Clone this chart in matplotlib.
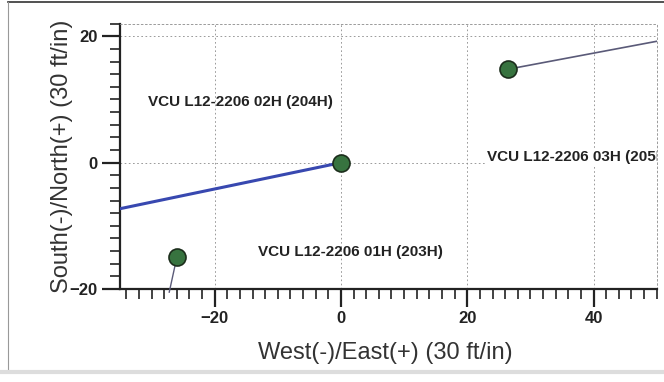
import matplotlib
matplotlib.use('Agg')
import matplotlib.pyplot as plt
from matplotlib.lines import Line2D
from matplotlib.ticker import MultipleLocator

plt.rcParams['font.family'] = ['Liberation Sans', 'DejaVu Sans']

# Well surface locations (30 ft/in grid units)
well_labels = ['VCU L12-2206 01H (203H)', 'VCU L12-2206 02H (204H)', 'VCU L12-2206 03H (205H)']
surface_x = [-26.0, 0.0, 26.5]
surface_y = [-15.0, 0.0, 14.8]

# Wellbore traces
path_01_x = [-26.0, -27.2]
path_01_y = [-15.0, -20.5]
path_02_x = [0.0, -36.0]
path_02_y = [0.0, -7.5]
path_03_x = [26.5, 51.0]
path_03_y = [14.8, 19.4]

fig = plt.figure(figsize=(6.64, 3.82), dpi=100)
ax = fig.add_axes([0.1807, 0.2435, 0.8083, 0.6945])

ax.set_xlim(-35, 50)
ax.set_ylim(-20, 22)

# Grid
for gx in [-20, 0, 20, 40]:
    ax.axvline(gx, color='#8a8a8a', linewidth=0.6, linestyle=(0, (2, 3)), zorder=1)
for gy in [0, 20]:
    ax.axhline(gy, color='#8a8a8a', linewidth=0.6, linestyle=(0, (2, 3)), zorder=1)

# Traces
ax.plot(path_02_x, path_02_y, color='#3848b0', linewidth=2.2, zorder=3)
ax.plot(path_03_x, path_03_y, color='#5a5a78', linewidth=1.2, zorder=3)
ax.plot(path_01_x, path_01_y, color='#5a5a78', linewidth=1.0, zorder=3, clip_on=False)

ax.scatter(surface_x, surface_y, s=150, color='#37733f', edgecolors='#1c2e1c',
           linewidths=1.2, zorder=5)

# Labels
lab_kw = dict(fontsize=11, fontweight='bold', va='center', ha='left', color='#222222')
ax.text(-30.6, 9.6, well_labels[1], **lab_kw)
ax.text(-13.2, -14.2, well_labels[0], **lab_kw)
ax.text(23.2, 0.9, well_labels[2], clip_on=True,
        bbox=dict(facecolor='white', edgecolor='none', pad=1), **lab_kw)

# Spines
for s in ['top', 'right']:
    ax.spines[s].set_color('#8a8a8a')
    ax.spines[s].set_linestyle((0, (2, 3)))
    ax.spines[s].set_linewidth(0.6)
for s in ['left', 'bottom']:
    ax.spines[s].set_linewidth(1.6)
    ax.spines[s].set_color('#222222')

ax.xaxis.set_major_locator(MultipleLocator(20))
ax.xaxis.set_minor_locator(MultipleLocator(2))
ax.yaxis.set_major_locator(MultipleLocator(20))
ax.yaxis.set_minor_locator(MultipleLocator(2))
ax.tick_params(which='major', direction='out', length=13, width=1.6, color='#222222',
               labelsize=12, pad=3)
ax.tick_params(which='minor', direction='out', length=7, width=1.2, color='#222222')
ax.tick_params(top=False, right=False, which='both')
for lab in ax.get_xticklabels() + ax.get_yticklabels():
    lab.set_fontweight('bold')
    lab.set_color('#222222')

ax.set_xlabel('West(-)/East(+) (30 ft/in)', fontsize=17, color='#333333')
ax.set_ylabel('South(-)/North(+) (30 ft/in)', fontsize=17, color='#333333')
ax.xaxis.set_label_coords(0.4935, -0.2)
ax.yaxis.set_label_coords(-0.088, 0.5)

# Scanned page border
fig.add_artist(Line2D([0.012, 1.0], [0.995, 0.995], color='#333333', linewidth=1.2))
fig.add_artist(Line2D([0.012, 0.012], [0.03, 0.995], color='#999999', linewidth=0.8))
fig.add_artist(Line2D([0.0, 1.0], [0.025, 0.025], color='#dddddd', linewidth=3))

fig.savefig('out.png', dpi=100)
